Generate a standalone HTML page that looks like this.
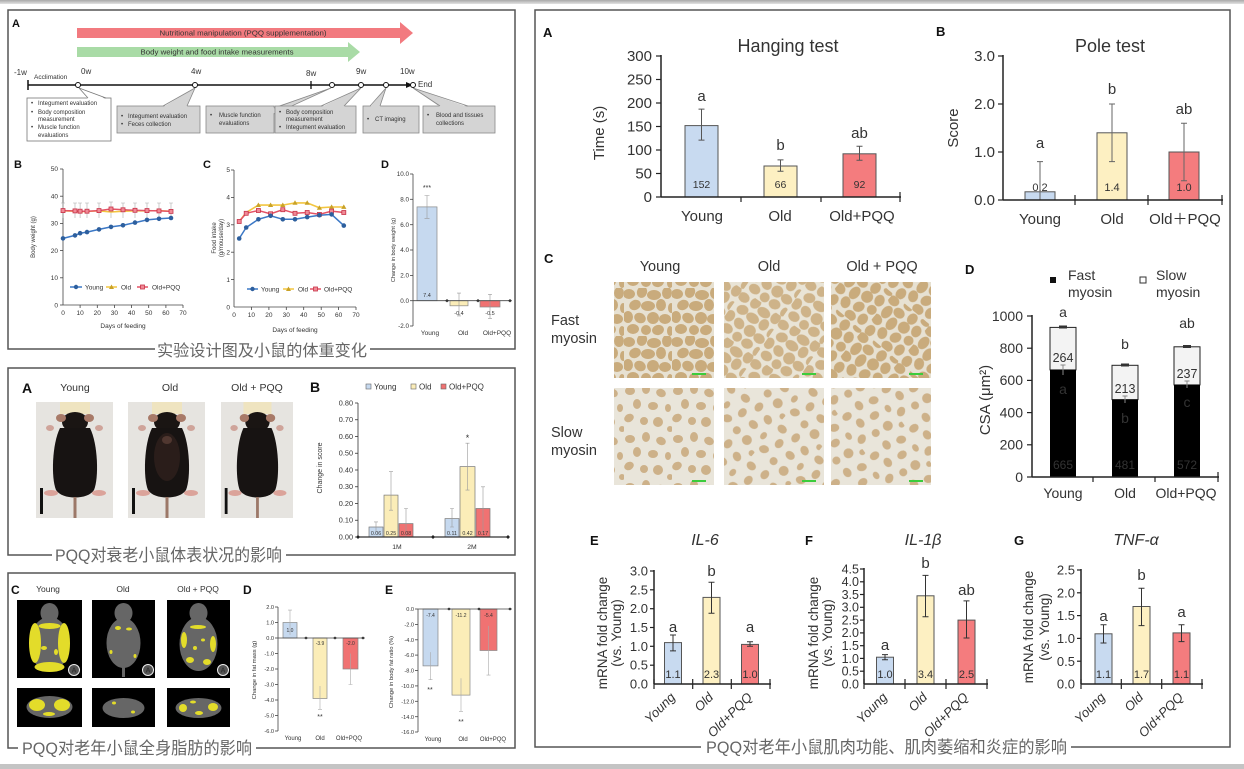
<!DOCTYPE html>
<html><head><meta charset="utf-8">
<style>
html,body{margin:0;padding:0;background:#fff;}
svg{display:block;}
text{font-family:"Liberation Sans",Arial,sans-serif;fill:#333;}
.cj{font-family:"Liberation Sans","Noto Sans CJK SC",sans-serif;fill:#666;}
.b{font-weight:bold;fill:#111;}
</style></head><body>
<svg width="1244" height="769" viewBox="0 0 1244 769" xmlns="http://www.w3.org/2000/svg">
<defs>
<linearGradient id="tg" x1="0" y1="0" x2="0" y2="1"><stop offset="0" stop-color="#a9a9a9"/><stop offset="1" stop-color="#e2e2e2"/></linearGradient>
<pattern id="pf" width="48" height="48" patternUnits="userSpaceOnUse">
<rect width="48" height="48" fill="#e7e1d2"/>
<g fill="#c9ab7c">
<ellipse cx="5" cy="6" rx="6" ry="5"/><ellipse cx="18" cy="4" rx="5" ry="6" transform="rotate(20 18 4)"/><ellipse cx="30" cy="7" rx="7" ry="5"/><ellipse cx="43" cy="5" rx="5" ry="6"/>
<ellipse cx="11" cy="17" rx="6" ry="5" transform="rotate(-25 11 17)"/><ellipse cx="24" cy="18" rx="7" ry="5"/><ellipse cx="37" cy="17" rx="5" ry="6"/><ellipse cx="47" cy="20" rx="3" ry="5"/>
<ellipse cx="4" cy="29" rx="5" ry="6"/><ellipse cx="16" cy="30" rx="6" ry="5" transform="rotate(30 16 30)"/><ellipse cx="29" cy="30" rx="6" ry="6"/><ellipse cx="41" cy="31" rx="6" ry="5"/>
<ellipse cx="9" cy="41" rx="6" ry="5"/><ellipse cx="22" cy="42" rx="5" ry="5"/><ellipse cx="34" cy="42" rx="6" ry="5" transform="rotate(-15 34 42)"/><ellipse cx="46" cy="43" rx="3" ry="5"/>
</g></pattern>
<pattern id="pf2" href="#pf" patternTransform="rotate(35) translate(7 3)"/>
<pattern id="pf3" href="#pf" patternTransform="rotate(-50) translate(13 9)"/>
<pattern id="ps" width="48" height="48" patternUnits="userSpaceOnUse">
<rect width="48" height="48" fill="#e9e5da"/>
<g fill="#cdb189">
<ellipse cx="6" cy="7" rx="5" ry="4"/><ellipse cx="22" cy="5" rx="4" ry="5"/><ellipse cx="37" cy="9" rx="5" ry="4" transform="rotate(25 37 9)"/>
<ellipse cx="13" cy="20" rx="4" ry="5"/><ellipse cx="29" cy="22" rx="5" ry="4"/><ellipse cx="44" cy="24" rx="3" ry="4"/>
<ellipse cx="5" cy="34" rx="5" ry="4" transform="rotate(-30 5 34)"/><ellipse cx="20" cy="37" rx="4" ry="4"/><ellipse cx="34" cy="38" rx="5" ry="5"/><ellipse cx="46" cy="45" rx="3" ry="3"/>
</g></pattern>
<pattern id="ps2" href="#ps" patternTransform="rotate(40) translate(5 11)"/>
<pattern id="ps3" href="#ps" patternTransform="rotate(-35) translate(17 4)"/>
<g id="mouse">
<rect width="77" height="116" fill="#e6e4e0"/>
<rect x="24" y="0" width="30" height="12" fill="#efe4c0"/>
<ellipse cx="39" cy="20" rx="13" ry="10" fill="#1a1513"/>
<ellipse cx="25" cy="16" rx="5" ry="4" fill="#a87a68"/>
<ellipse cx="53" cy="16" rx="5" ry="4" fill="#a87a68"/>
<ellipse cx="14" cy="26" rx="4" ry="3" fill="#cfa49a"/>
<ellipse cx="63" cy="26" rx="4" ry="3" fill="#cfa49a"/>
<path d="M24 26 C16 42 15 76 20 88 C26 98 52 98 58 88 C63 76 62 42 54 26 Z" fill="#171312"/>
<ellipse cx="15" cy="91" rx="7" ry="3" fill="#dba39a"/>
<ellipse cx="63" cy="91" rx="7" ry="3" fill="#dba39a"/>
<rect x="37.5" y="95" width="3" height="21" fill="#9c7868"/>
<rect x="4" y="86" width="3" height="26" fill="#111"/>
</g>
</defs>

<rect x="0" y="0" width="1244" height="4" fill="url(#tg)"/>
<rect x="0" y="764" width="1244" height="5" fill="#c4c4c4"/>

<!-- ================= PANEL 1 ================= -->
<rect x="8" y="10" width="507" height="339" fill="none" stroke="#555" stroke-width="1.5"/>
<text x="12" y="27" class="b" font-size="11">A</text>
<polygon points="77,28 400,28 400,22 413,33 400,44 400,38 77,38" fill="#f27a7f"/>
<text x="243" y="35.5" font-size="7.5" text-anchor="middle" textLength="167" lengthAdjust="spacingAndGlyphs" fill="#333">Nutritional manipulation (PQQ supplementation)</text>
<polygon points="77,47 348,47 348,42 360,52 348,62 348,57 77,57" fill="#a9dba6"/>
<text x="217" y="54.5" font-size="7.5" text-anchor="middle" textLength="153" lengthAdjust="spacingAndGlyphs" fill="#333">Body weight and food intake measurements</text>
<line x1="28" y1="85" x2="408" y2="85" stroke="#111" stroke-width="1.5"/>
<polygon points="406,82 413,85 406,88" fill="#111"/>
<line x1="28" y1="80" x2="28" y2="90" stroke="#111" stroke-width="1.5"/>
<line x1="311" y1="81" x2="311" y2="89" stroke="#111" stroke-width="1.3"/>
<g font-size="8" fill="#222">
<text x="14" y="75">-1w</text><text x="34" y="79" font-size="6.5">Acclimation</text>
<text x="81" y="74">0w</text><text x="191" y="74">4w</text><text x="306" y="76">8w</text>
<text x="356" y="74">9w</text><text x="400" y="74">10w</text><text x="418" y="87">End</text>
</g>
<rect x="27" y="98" width="84" height="43" fill="#fff" stroke="#777" stroke-width="0.8"/>
<polygon points="79,88 88,99 106,99" fill="#fff"/><polyline points="88,98 79,88 106,98" fill="none" stroke="#777" stroke-width="0.8"/>
<rect x="117" y="106" width="83" height="27" fill="#d4d4d4" stroke="#888" stroke-width="0.8"/>
<polygon points="195,88 163,107 187,107" fill="#d4d4d4"/><polyline points="163,106 195,88 187,106" fill="none" stroke="#888" stroke-width="0.8"/>
<rect x="206" y="106" width="68" height="27" fill="#d4d4d4" stroke="#888" stroke-width="0.8"/>
<polygon points="331,88 272,108 272,114" fill="#d4d4d4"/><polyline points="274,108 331,88 274,114" fill="none" stroke="#888" stroke-width="0.8"/>
<rect x="275" y="106" width="81" height="27" fill="#d4d4d4" stroke="#888" stroke-width="0.8"/>
<polygon points="361,88 321,107 344,107" fill="#d4d4d4"/><polyline points="321,106 361,88 344,106" fill="none" stroke="#888" stroke-width="0.8"/>
<rect x="363" y="106" width="56" height="27" fill="#d4d4d4" stroke="#888" stroke-width="0.8"/>
<polygon points="386,88 370,107 380,107" fill="#d4d4d4"/><polyline points="370,106 386,88 380,106" fill="none" stroke="#888" stroke-width="0.8"/>
<rect x="423" y="106" width="72" height="27" fill="#d4d4d4" stroke="#888" stroke-width="0.8"/>
<polygon points="413,88 440,107 468,107" fill="#d4d4d4"/><polyline points="440,106 413,88 468,106" fill="none" stroke="#888" stroke-width="0.8"/>
<g fill="#fff" stroke="#111" stroke-width="1"><circle cx="78" cy="85" r="2.5"/><circle cx="195" cy="85" r="2.5"/><circle cx="332" cy="85" r="2.5"/><circle cx="361" cy="85" r="2.5"/><circle cx="386" cy="85" r="2.5"/><circle cx="413" cy="85" r="2.5"/></g>
<g font-size="6" fill="#333">
<text x="31" y="105">•</text><text x="38" y="105">Integument evaluation</text>
<text x="31" y="114">•</text><text x="38" y="114">Body composition</text><text x="38" y="121">measurement</text>
<text x="31" y="129">•</text><text x="38" y="129">Muscle function</text><text x="38" y="137">evaluations</text>
<text x="121" y="118">•</text><text x="128" y="118">Integument evaluation</text>
<text x="121" y="126">•</text><text x="128" y="126">Feces collection</text>
<text x="210" y="117">•</text><text x="219" y="117">Muscle function</text><text x="219" y="125">evaluations</text>
<text x="279" y="114">•</text><text x="286" y="114">Body composition</text><text x="286" y="121">measurement</text>
<text x="279" y="129">•</text><text x="286" y="129">Integument evaluation</text>
<text x="367" y="121">•</text><text x="375" y="121">CT imaging</text>
<text x="427" y="117">•</text><text x="436" y="117">Blood and tissues</text><text x="436" y="125">collections</text>
</g>

<!-- Chart B (body weight) -->
<text x="14" y="168" class="b" font-size="11">B</text>
<g stroke="#444" stroke-width="0.8">
<line x1="63" y1="169" x2="63" y2="305"/><line x1="63" y1="305" x2="183" y2="305"/>
<line x1="60" y1="169" x2="63" y2="169"/><line x1="60" y1="196.2" x2="63" y2="196.2"/><line x1="60" y1="223.4" x2="63" y2="223.4"/><line x1="60" y1="250.6" x2="63" y2="250.6"/><line x1="60" y1="277.8" x2="63" y2="277.8"/><line x1="60" y1="305" x2="63" y2="305"/>
<line x1="80.1" y1="305" x2="80.1" y2="308"/><line x1="97.3" y1="305" x2="97.3" y2="308"/><line x1="114.4" y1="305" x2="114.4" y2="308"/><line x1="131.6" y1="305" x2="131.6" y2="308"/><line x1="148.7" y1="305" x2="148.7" y2="308"/><line x1="165.9" y1="305" x2="165.9" y2="308"/><line x1="183" y1="305" x2="183" y2="308"/>
</g>
<g font-size="6.5" text-anchor="end"><text x="58" y="171">50</text><text x="58" y="198.5">40</text><text x="58" y="225.5">30</text><text x="58" y="253">20</text><text x="58" y="280">10</text><text x="58" y="307.5">0</text></g>
<g font-size="6.5" text-anchor="middle"><text x="63" y="315">0</text><text x="80.1" y="315">10</text><text x="97.3" y="315">20</text><text x="114.4" y="315">30</text><text x="131.6" y="315">40</text><text x="148.7" y="315">50</text><text x="165.9" y="315">60</text><text x="183" y="315">70</text></g>
<text x="123" y="328" font-size="6.5" text-anchor="middle">Days of feeding</text>
<text transform="translate(35,237) rotate(-90)" font-size="6" text-anchor="middle">Body weight (g)</text>
<path d="M63 203V218M75 203V218M80.1 203V218M87 203V218M99 203V218M111 202V218M123 203V218M135 203V218M147 203V218M159 203V218M171 203V218" stroke="#aaa" stroke-width="0.6"/>
<path d="M61 203h4M73 203h4M78 203h4M85 203h4M97 203h4M109 202h4M121 203h4M133 203h4M145 203h4M157 203h4M169 203h4" stroke="#aaa" stroke-width="0.6"/>
<polyline points="63,238.4 75,235.4 80.1,233.2 87,232.1 99,229.4 111,226.9 123,225.3 135,222.6 147,219.9 159,218.8 171,218" fill="none" stroke="#3b78c6" stroke-width="1.5"/>
<polyline points="63,210.9 75,211.2 80.1,211.7 87,211.4 99,210.9 111,212 123,211.2 135,210.9 147,210.9 159,210.6 171,211.2" fill="none" stroke="#f3c640" stroke-width="1.5"/>
<polyline points="63,210.6 75,210.9 80.1,211.2 87,211.2 99,210.6 111,209 123,209.8 135,210.3 147,210.6 159,210.9 171,211.4" fill="none" stroke="#e45366" stroke-width="1.5"/>
<g fill="#2d5f9e"><circle cx="63" cy="238.4" r="2.3"/><circle cx="75" cy="235.4" r="2.3"/><circle cx="80.1" cy="233.2" r="2.3"/><circle cx="87" cy="232.1" r="2.3"/><circle cx="99" cy="229.4" r="2.3"/><circle cx="111" cy="226.9" r="2.3"/><circle cx="123" cy="225.3" r="2.3"/><circle cx="135" cy="222.6" r="2.3"/><circle cx="147" cy="219.9" r="2.3"/><circle cx="159" cy="218.8" r="2.3"/><circle cx="171" cy="218" r="2.3"/></g>
<g fill="#f08a96" stroke="#c73248" stroke-width="0.8"><rect x="61" y="208.6" width="4" height="4"/><rect x="73" y="208.9" width="4" height="4"/><rect x="78.1" y="209.2" width="4" height="4"/><rect x="85" y="209.2" width="4" height="4"/><rect x="97" y="208.6" width="4" height="4"/><rect x="109" y="207" width="4" height="4"/><rect x="121" y="207.8" width="4" height="4"/><rect x="133" y="208.3" width="4" height="4"/><rect x="145" y="208.6" width="4" height="4"/><rect x="157" y="208.9" width="4" height="4"/><rect x="169" y="209.4" width="4" height="4"/></g>
<line x1="70" y1="287" x2="82" y2="287" stroke="#3b78c6" stroke-width="1.5"/><circle cx="76" cy="287" r="2.2" fill="#2d5f9e"/>
<text x="85" y="289.5" font-size="6.5">Young</text>
<line x1="106" y1="287" x2="117" y2="287" stroke="#f3c640" stroke-width="1.5"/><polygon points="111.5,284.5 114,289 109,289" fill="#c9a227"/>
<text x="121" y="289.5" font-size="6.5">Old</text>
<line x1="137" y1="287" x2="148" y2="287" stroke="#e45366" stroke-width="1.5"/><rect x="140.5" y="285" width="4" height="4" fill="#f08a96" stroke="#c73248" stroke-width="0.8"/>
<text x="152" y="289.5" font-size="6.5">Old+PQQ</text>

<!-- Chart C (food intake) -->
<text x="203" y="168" class="b" font-size="11">C</text>
<g stroke="#444" stroke-width="0.8">
<line x1="234" y1="170" x2="234" y2="307"/><line x1="234" y1="307" x2="356" y2="307"/>
<line x1="231" y1="170" x2="234" y2="170"/><line x1="231" y1="197.4" x2="234" y2="197.4"/><line x1="231" y1="224.8" x2="234" y2="224.8"/><line x1="231" y1="252.2" x2="234" y2="252.2"/><line x1="231" y1="279.6" x2="234" y2="279.6"/>
<line x1="251.4" y1="307" x2="251.4" y2="310"/><line x1="268.9" y1="307" x2="268.9" y2="310"/><line x1="286.3" y1="307" x2="286.3" y2="310"/><line x1="303.7" y1="307" x2="303.7" y2="310"/><line x1="321.2" y1="307" x2="321.2" y2="310"/><line x1="338.6" y1="307" x2="338.6" y2="310"/><line x1="356" y1="307" x2="356" y2="310"/>
</g>
<g font-size="6.5" text-anchor="end"><text x="230" y="172">5</text><text x="230" y="199.5">4</text><text x="230" y="227">3</text><text x="230" y="254.5">2</text><text x="230" y="282">1</text><text x="230" y="309.5">0</text></g>
<g font-size="6.5" text-anchor="middle"><text x="234" y="317">0</text><text x="251.4" y="317">10</text><text x="268.9" y="317">20</text><text x="286.3" y="317">30</text><text x="303.7" y="317">40</text><text x="321.2" y="317">50</text><text x="338.6" y="317">60</text><text x="356" y="317">70</text></g>
<text x="295" y="332" font-size="6.5" text-anchor="middle">Days of feeding</text>
<text transform="translate(216,238) rotate(-90)" font-size="6" text-anchor="middle">Food intake</text>
<text transform="translate(223,238) rotate(-90)" font-size="6" text-anchor="middle">(g/mouse/day)</text>
<polyline points="239.2,221.5 246.2,212.5 258.4,205.1 270.6,205.1 282.8,205.1 295,202.9 307.2,202.9 319.4,207.8 331.6,207 343.8,207" fill="none" stroke="#f3c640" stroke-width="1.6"/>
<polyline points="239.2,221.5 246.2,213.3 258.4,210.5 270.6,213.8 282.8,209.7 295,213.3 307.2,212.5 319.4,214.4 331.6,211.1 343.8,212.5" fill="none" stroke="#e45366" stroke-width="1.5"/>
<polyline points="239.2,238.5 246.2,227.5 258.4,219.3 270.6,215.8 282.8,219.3 295,219.3 307.2,217.1 319.4,215.2 331.6,214.4 343.8,225.6" fill="none" stroke="#3b78c6" stroke-width="1.5"/>
<g fill="#c9a227"><polygon points="258.4,202.5 261,207 255.8,207"/><polygon points="270.6,202.5 273.2,207 268,207"/><polygon points="282.8,202.5 285.4,207 280.2,207"/><polygon points="295,200.3 297.6,204.8 292.4,204.8"/><polygon points="307.2,200.3 309.8,204.8 304.6,204.8"/><polygon points="319.4,205.2 322,209.7 316.8,209.7"/><polygon points="331.6,204.4 334.2,208.9 329,208.9"/><polygon points="343.8,204.4 346.4,208.9 341.2,208.9"/></g>
<g fill="#f08a96" stroke="#c73248" stroke-width="0.8"><rect x="237.2" y="219.5" width="4" height="4"/><rect x="244.2" y="211.3" width="4" height="4"/><rect x="256.4" y="208.5" width="4" height="4"/><rect x="268.6" y="211.8" width="4" height="4"/><rect x="280.8" y="207.7" width="4" height="4"/><rect x="293" y="211.3" width="4" height="4"/><rect x="305.2" y="210.5" width="4" height="4"/><rect x="317.4" y="212.4" width="4" height="4"/><rect x="329.6" y="209.1" width="4" height="4"/><rect x="341.8" y="210.5" width="4" height="4"/></g>
<g fill="#2d5f9e"><circle cx="239.2" cy="238.5" r="2.3"/><circle cx="246.2" cy="227.5" r="2.3"/><circle cx="258.4" cy="219.3" r="2.3"/><circle cx="270.6" cy="215.8" r="2.3"/><circle cx="282.8" cy="219.3" r="2.3"/><circle cx="295" cy="219.3" r="2.3"/><circle cx="307.2" cy="217.1" r="2.3"/><circle cx="319.4" cy="215.2" r="2.3"/><circle cx="331.6" cy="214.4" r="2.3"/><circle cx="343.8" cy="225.6" r="2.3"/></g>
<line x1="247" y1="289" x2="258" y2="289" stroke="#3b78c6" stroke-width="1.5"/><circle cx="252.5" cy="289" r="2.2" fill="#2d5f9e"/>
<text x="261" y="291.5" font-size="6.5">Young</text>
<line x1="283" y1="289" x2="294" y2="289" stroke="#f3c640" stroke-width="1.5"/><polygon points="288.5,286.5 291,291 286,291" fill="#c9a227"/>
<text x="298" y="291.5" font-size="6.5">Old</text>
<line x1="310" y1="289" x2="321" y2="289" stroke="#e45366" stroke-width="1.5"/><rect x="313.5" y="287" width="4" height="4" fill="#f08a96" stroke="#c73248" stroke-width="0.8"/>
<text x="324" y="291.5" font-size="6.5">Old+PQQ</text>

<!-- Chart D (change in body weight) -->
<text x="381" y="168" class="b" font-size="11">D</text>
<rect x="417" y="206.9" width="20" height="93.8" fill="#c6d9ef" stroke="#888" stroke-width="0.7"/>
<rect x="450" y="300.7" width="18" height="5.1" fill="#fbedb8" stroke="#888" stroke-width="0.7"/>
<rect x="480" y="300.7" width="20" height="6.3" fill="#f07272" stroke="#888" stroke-width="0.7"/>
<path d="M427 195.5V218.3M424.5 195.5h5M424.5 218.3h5M459 293.1V315.9M457 293.1h4M457 315.9h4M490 294.4V318.4M488 294.4h4M488 318.4h4" stroke="#999" stroke-width="0.6"/>
<g stroke="#444" stroke-width="0.8">
<line x1="413" y1="174" x2="413" y2="326"/><line x1="413" y1="300.7" x2="511" y2="300.7"/>
<line x1="410" y1="174" x2="413" y2="174"/><line x1="410" y1="199.3" x2="413" y2="199.3"/><line x1="410" y1="224.7" x2="413" y2="224.7"/><line x1="410" y1="250" x2="413" y2="250"/><line x1="410" y1="275.4" x2="413" y2="275.4"/><line x1="410" y1="300.7" x2="413" y2="300.7"/><line x1="410" y1="326" x2="413" y2="326"/>
</g>
<g fill="#333"><polygon points="447,299 449,300.7 447,302.4 445,300.7"/><polygon points="478,299 480,300.7 478,302.4 476,300.7"/><polygon points="510,299 512,300.7 510,302.4 508,300.7"/></g>
<g font-size="6.3" text-anchor="end"><text x="409" y="176">10.0</text><text x="409" y="201.5">8.0</text><text x="409" y="227">6.0</text><text x="409" y="252">4.0</text><text x="409" y="277.5">2.0</text><text x="409" y="303">0.0</text><text x="409" y="328">-2.0</text></g>
<text x="427" y="190" font-size="7" text-anchor="middle">***</text>
<g font-size="5.5" text-anchor="middle" fill="#555"><text x="427" y="297">7.4</text><text x="459" y="315">-0.4</text><text x="490" y="315">-0.5</text></g>
<g font-size="6.5" text-anchor="middle"><text x="430" y="335">Young</text><text x="463" y="335">Old</text><text x="497" y="335">Old+PQQ</text></g>
<text transform="translate(395,250) rotate(-90)" font-size="5.5" text-anchor="middle">Change in body weight (g)</text>

<rect x="155" y="340" width="215" height="20" fill="#fff"/>
<text x="262" y="356" class="cj" font-size="16" text-anchor="middle" textLength="210" lengthAdjust="spacingAndGlyphs">实验设计图及小鼠的体重变化</text>

<!-- ================= PANEL 2 ================= -->
<rect x="8" y="368" width="507" height="187" fill="none" stroke="#555" stroke-width="1.5"/>
<text x="22" y="393" class="b" font-size="14">A</text>
<g font-size="10.5" text-anchor="middle" fill="#222"><text x="75" y="391">Young</text><text x="170" y="391">Old</text><text x="257" y="391">Old + PQQ</text></g>
<use href="#mouse" transform="translate(36,402)"/>
<use href="#mouse" transform="translate(128,402)"/>
<ellipse cx="167" cy="457" rx="13" ry="24" fill="#3a2620" opacity="0.55"/>
<ellipse cx="167" cy="440" rx="5" ry="4" fill="#6a4a40" opacity="0.6"/>
<use href="#mouse" transform="translate(221,402) scale(0.935,1)"/>
<text x="310" y="392" class="b" font-size="14">B</text>
<rect x="366" y="384" width="5" height="5" fill="#c6d9ef" stroke="#666" stroke-width="0.6"/><text x="374" y="389.5" font-size="8">Young</text>
<rect x="411" y="384" width="5" height="5" fill="#fbedb8" stroke="#666" stroke-width="0.6"/><text x="419" y="389.5" font-size="8">Old</text>
<rect x="441" y="384" width="5" height="5" fill="#f07272" stroke="#666" stroke-width="0.6"/><text x="449" y="389.5" font-size="8">Old+PQQ</text>
<g stroke="#777" stroke-width="0.7">
<rect x="369" y="527" width="14" height="10" fill="#c6d9ef"/><rect x="384" y="495.1" width="14" height="41.9" fill="#fbedb8"/><rect x="399" y="523.6" width="14" height="13.4" fill="#f07272"/>
<rect x="445" y="518.6" width="14" height="18.4" fill="#c6d9ef"/><rect x="460" y="466.6" width="15" height="70.4" fill="#fbedb8"/><rect x="476" y="508.5" width="14" height="28.5" fill="#f07272"/>
</g>
<path d="M376 521.9V532M374 521.9h4M391 471.7V510.2M389 471.7h4M389 510.2h4M406 508.5V537M404 508.5h4M452 508.5V527M450 508.5h4M450 527h4M467.5 443.2V490.1M465.5 443.2h4M465.5 490.1h4M483 486.8V532M481 486.8h4M481 532h4" stroke="#999" stroke-width="0.6"/>
<g stroke="#333" stroke-width="0.8">
<line x1="358" y1="403" x2="358" y2="537"/><line x1="358" y1="537" x2="509" y2="537" stroke-width="1.2"/>
<line x1="355" y1="403" x2="358" y2="403"/><line x1="355" y1="419.75" x2="358" y2="419.75"/><line x1="355" y1="436.5" x2="358" y2="436.5"/><line x1="355" y1="453.25" x2="358" y2="453.25"/><line x1="355" y1="470" x2="358" y2="470"/><line x1="355" y1="486.75" x2="358" y2="486.75"/><line x1="355" y1="503.5" x2="358" y2="503.5"/><line x1="355" y1="520.25" x2="358" y2="520.25"/><line x1="355" y1="537" x2="358" y2="537"/>
</g>
<g fill="#222"><polygon points="358,535 360,537 358,539 356,537"/><polygon points="433,535 435,537 433,539 431,537"/><polygon points="508,535 510,537 508,539 506,537"/></g>
<g font-size="7.3" text-anchor="end"><text x="353" y="405.5">0.80</text><text x="353" y="422">0.70</text><text x="353" y="439">0.60</text><text x="353" y="455.5">0.50</text><text x="353" y="472.5">0.40</text><text x="353" y="489">0.30</text><text x="353" y="506">0.20</text><text x="353" y="522.5">0.10</text><text x="353" y="539.5">0.00</text></g>
<g font-size="5.3" text-anchor="middle" fill="#444"><text x="376" y="535">0.06</text><text x="391" y="535">0.25</text><text x="406" y="535">0.08</text><text x="452" y="535">0.11</text><text x="467.5" y="535">0.42</text><text x="483" y="535">0.17</text></g>
<text x="467.5" y="441" font-size="9" text-anchor="middle">*</text>
<text transform="translate(322,468) rotate(-90)" font-size="7" text-anchor="middle">Change in score</text>
<g font-size="6.8" text-anchor="middle"><text x="397" y="549">1M</text><text x="472" y="549">2M</text></g>
<rect x="52" y="545" width="234" height="20" fill="#fff"/>
<text x="55" y="561" class="cj" font-size="17" textLength="227" lengthAdjust="spacingAndGlyphs">PQQ对衰老小鼠体表状况的影响</text>

<!-- ================= PANEL 3 ================= -->
<rect x="8" y="573" width="507" height="175" fill="none" stroke="#555" stroke-width="1.5"/>
<text x="11" y="594" class="b" font-size="12">C</text>
<g font-size="8.5" text-anchor="middle" fill="#222"><text x="48" y="592">Young</text><text x="123" y="592">Old</text><text x="198" y="592">Old + PQQ</text></g>
<rect x="17" y="600" width="65" height="78" fill="#000"/>
<rect x="92" y="600" width="63" height="78" fill="#000"/>
<rect x="167" y="600" width="63" height="78" fill="#000"/>
<g fill="#666">
<ellipse cx="49.5" cy="613" rx="9" ry="10"/><ellipse cx="49.5" cy="644" rx="20" ry="27"/>
<ellipse cx="123.5" cy="613" rx="9" ry="10"/><ellipse cx="123.5" cy="643" rx="17" ry="25"/><rect x="122" y="665" width="3" height="12"/>
<ellipse cx="198.5" cy="613" rx="9" ry="10"/><ellipse cx="198.5" cy="644" rx="19" ry="27"/>
</g>
<g fill="#e3dc2a">
<ellipse cx="35" cy="643" rx="6" ry="20"/><ellipse cx="64" cy="643" rx="6" ry="20"/><ellipse cx="49.5" cy="667" rx="15" ry="5"/><ellipse cx="49.5" cy="626" rx="11" ry="3"/><ellipse cx="44" cy="648" rx="3" ry="2"/><ellipse cx="56" cy="652" rx="2" ry="3"/>
<ellipse cx="118" cy="628" rx="3" ry="2"/><ellipse cx="129" cy="629" rx="3" ry="1.5"/><ellipse cx="111" cy="652" rx="1.5" ry="2"/><ellipse cx="135" cy="656" rx="1.5" ry="2"/>
<ellipse cx="184" cy="640" rx="3" ry="8"/><ellipse cx="213" cy="644" rx="3" ry="8"/><ellipse cx="198" cy="627" rx="8" ry="2"/><ellipse cx="190" cy="660" rx="4" ry="3"/><ellipse cx="207" cy="662" rx="4" ry="3"/><ellipse cx="195" cy="648" rx="2" ry="2"/><ellipse cx="203" cy="640" rx="2" ry="1.5"/>
</g>
<g><circle cx="74" cy="670" r="5.5" fill="#555" stroke="#eee"/><circle cx="148" cy="670" r="5.5" fill="#555" stroke="#eee"/><circle cx="223" cy="670" r="5.5" fill="#555" stroke="#eee"/></g>
<g font-size="7" font-weight="bold" text-anchor="middle"><text x="74" y="672.5" fill="#fff">A</text><text x="148" y="672.5" fill="#fff">A</text><text x="223" y="672.5" fill="#fff">A</text></g>
<rect x="17" y="688" width="65" height="39" fill="#000"/>
<rect x="92" y="688" width="63" height="39" fill="#000"/>
<rect x="167" y="688" width="63" height="39" fill="#000"/>
<ellipse cx="49.5" cy="707" rx="23" ry="11" fill="#666"/>
<ellipse cx="123.5" cy="708" rx="21" ry="10" fill="#666"/>
<ellipse cx="198.5" cy="708" rx="23" ry="10" fill="#666"/>
<g fill="#e3dc2a">
<ellipse cx="37" cy="705" rx="8" ry="6"/><ellipse cx="62" cy="705" rx="8" ry="6"/><ellipse cx="49" cy="714" rx="6" ry="2"/>
<ellipse cx="114" cy="703" rx="2" ry="1.5"/><ellipse cx="133" cy="712" rx="2" ry="1.5"/>
<ellipse cx="183" cy="708" rx="4" ry="4"/><ellipse cx="213" cy="707" rx="5" ry="4"/><ellipse cx="199" cy="713" rx="4" ry="2"/><ellipse cx="193" cy="702" rx="3" ry="1.5"/>
</g>
<text x="243" y="594" class="b" font-size="12">D</text>
<rect x="283" y="622.5" width="14" height="15.5" fill="#c6d9ef" stroke="#888" stroke-width="0.7"/>
<rect x="313" y="638" width="14" height="60.5" fill="#fbedb8" stroke="#888" stroke-width="0.7"/>
<rect x="343" y="638" width="15" height="31" fill="#f07272" stroke="#888" stroke-width="0.7"/>
<path d="M290 610.1V634.9M288 610.1h4M320 686V709.3M318 709.3h4M350.5 653.5V684.5M348.5 684.5h4" stroke="#aaa" stroke-width="0.6"/>
<g stroke="#444" stroke-width="0.8">
<line x1="278" y1="607" x2="278" y2="731"/><line x1="278" y1="638" x2="364" y2="638"/>
<line x1="275" y1="607" x2="278" y2="607"/><line x1="275" y1="622.5" x2="278" y2="622.5"/><line x1="275" y1="638" x2="278" y2="638"/><line x1="275" y1="653.5" x2="278" y2="653.5"/><line x1="275" y1="669" x2="278" y2="669"/><line x1="275" y1="684.5" x2="278" y2="684.5"/><line x1="275" y1="700" x2="278" y2="700"/><line x1="275" y1="715.5" x2="278" y2="715.5"/><line x1="275" y1="731" x2="278" y2="731"/>
</g>
<g fill="#333"><polygon points="306,636.5 308,638 306,639.5 304,638"/><polygon points="335,636.5 337,638 335,639.5 333,638"/><polygon points="363,636.5 365,638 363,639.5 361,638"/></g>
<g font-size="5.6" text-anchor="end"><text x="274" y="609">2.0</text><text x="274" y="624.5">1.0</text><text x="274" y="640">0.0</text><text x="274" y="655.5">-1.0</text><text x="274" y="671">-2.0</text><text x="274" y="686.5">-3.0</text><text x="274" y="702">-4.0</text><text x="274" y="717.5">-5.0</text><text x="274" y="733">-6.0</text></g>
<g font-size="5" text-anchor="middle" fill="#555"><text x="290" y="632">1.0</text><text x="320" y="645">-3.9</text><text x="350.5" y="645">-2.0</text></g>
<text x="320" y="719" font-size="7" text-anchor="middle">**</text>
<g font-size="6" text-anchor="middle"><text x="293" y="740">Young</text><text x="320" y="740">Old</text><text x="349" y="740">Old+PQQ</text></g>
<text transform="translate(256,670) rotate(-90)" font-size="5.8" text-anchor="middle">Change in fat mass (g)</text>
<text x="385" y="594" class="b" font-size="12">E</text>
<rect x="423" y="609" width="15" height="56.9" fill="#c6d9ef" stroke="#888" stroke-width="0.7"/>
<rect x="452" y="609" width="18" height="86.1" fill="#fbedb8" stroke="#888" stroke-width="0.7"/>
<rect x="480" y="609" width="17" height="41.5" fill="#f07272" stroke="#888" stroke-width="0.7"/>
<path d="M430.5 652.1V679.7M428.5 679.7h4M461 678.2V711.3M459 711.3h4M488.5 625.9V675.1M486.5 675.1h4" stroke="#aaa" stroke-width="0.6"/>
<g stroke="#444" stroke-width="0.8">
<line x1="418" y1="609" x2="418" y2="732"/><line x1="418" y1="609" x2="511" y2="609"/>
<line x1="415" y1="609" x2="418" y2="609"/><line x1="415" y1="624.4" x2="418" y2="624.4"/><line x1="415" y1="639.8" x2="418" y2="639.8"/><line x1="415" y1="655.1" x2="418" y2="655.1"/><line x1="415" y1="670.5" x2="418" y2="670.5"/><line x1="415" y1="685.9" x2="418" y2="685.9"/><line x1="415" y1="701.3" x2="418" y2="701.3"/><line x1="415" y1="716.7" x2="418" y2="716.7"/><line x1="415" y1="732" x2="418" y2="732"/>
</g>
<g fill="#333"><polygon points="449,607.5 451,609 449,610.5 447,609"/><polygon points="479,607.5 481,609 479,610.5 477,609"/><polygon points="510,607.5 512,609 510,610.5 508,609"/></g>
<g font-size="5.6" text-anchor="end"><text x="414" y="611">0.0</text><text x="414" y="626.5">-2.0</text><text x="414" y="642">-4.0</text><text x="414" y="657">-6.0</text><text x="414" y="672.5">-8.0</text><text x="414" y="688">-10.0</text><text x="414" y="703.5">-12.0</text><text x="414" y="719">-14.0</text><text x="414" y="734">-16.0</text></g>
<g font-size="5" text-anchor="middle" fill="#555"><text x="430.5" y="617">-7.4</text><text x="461" y="617">-11.2</text><text x="488.5" y="617">-5.4</text></g>
<text x="430" y="692" font-size="7" text-anchor="middle">**</text>
<text x="461" y="724" font-size="7" text-anchor="middle">**</text>
<g font-size="6" text-anchor="middle"><text x="433" y="741">Young</text><text x="463" y="741">Old</text><text x="493" y="741">Old+PQQ</text></g>
<text transform="translate(393,672) rotate(-90)" font-size="5.8" text-anchor="middle">Change in body fat ratio (%)</text>
<rect x="18" y="738" width="238" height="20" fill="#fff"/>
<text x="22" y="754" class="cj" font-size="17" textLength="230" lengthAdjust="spacingAndGlyphs">PQQ对老年小鼠全身脂肪的影响</text>

<!-- ================= PANEL 4 ================= -->
<rect x="535" y="10" width="695" height="737" fill="none" stroke="#555" stroke-width="1.5"/>
<text x="543" y="37" class="b" font-size="13">A</text>
<text x="788" y="52" font-size="18" text-anchor="middle" fill="#222">Hanging test</text>
<rect x="685" y="125.6" width="33" height="71.4" fill="#c8daf0" stroke="#555" stroke-width="1"/>
<rect x="764" y="166" width="33" height="31" fill="#fdf0c2" stroke="#555" stroke-width="1"/>
<rect x="843" y="153.8" width="33" height="43.2" fill="#f47c7e" stroke="#555" stroke-width="1"/>
<path d="M701.5 109.1V140.1M698.5 109.1h6M698.5 140.1h6M780.5 159.9V171.2M777.5 159.9h6M777.5 171.2h6M859.5 146.2V160.3M856.5 146.2h6M856.5 160.3h6" stroke="#555" stroke-width="1"/>
<g stroke="#222" stroke-width="1.5">
<line x1="661" y1="55" x2="661" y2="197"/><line x1="661" y1="197" x2="901" y2="197"/>
</g>
<g stroke="#222" stroke-width="1.2">
<line x1="656" y1="56" x2="661" y2="56"/><line x1="656" y1="79.5" x2="661" y2="79.5"/><line x1="656" y1="103" x2="661" y2="103"/><line x1="656" y1="126.5" x2="661" y2="126.5"/><line x1="656" y1="150" x2="661" y2="150"/><line x1="656" y1="173.5" x2="661" y2="173.5"/><line x1="656" y1="197" x2="661" y2="197"/>
<line x1="741" y1="197" x2="741" y2="202"/><line x1="821" y1="197" x2="821" y2="202"/><line x1="900" y1="192" x2="900" y2="202"/>
</g>
<g font-size="15" text-anchor="end" fill="#333"><text x="652" y="61">300</text><text x="652" y="84.5">250</text><text x="652" y="108">200</text><text x="652" y="131.5">150</text><text x="652" y="155">100</text><text x="652" y="178.5">50</text><text x="652" y="202">0</text></g>
<g font-size="15" text-anchor="middle" fill="#333"><text x="701.5" y="101">a</text><text x="780.5" y="150">b</text><text x="859.5" y="138">ab</text></g>
<g font-size="10.5" text-anchor="middle" fill="#333"><text x="701.5" y="188">152</text><text x="780.5" y="188">66</text><text x="859.5" y="188">92</text></g>
<text transform="translate(604,133) rotate(-90)" font-size="15" text-anchor="middle" fill="#333">Time (s)</text>
<g font-size="15" text-anchor="middle" fill="#333"><text x="702" y="221">Young</text><text x="780" y="221">Old</text><text x="862" y="221">Old+PQQ</text></g>

<text x="936" y="36" class="b" font-size="13">B</text>
<text x="1110" y="52" font-size="18" text-anchor="middle" fill="#222">Pole test</text>
<rect x="1025" y="191.8" width="30" height="8.2" fill="#c8daf0" stroke="#555" stroke-width="1"/>
<rect x="1097" y="132.8" width="30" height="67.2" fill="#fdf0c2" stroke="#555" stroke-width="1"/>
<rect x="1169" y="152" width="30" height="48" fill="#f47c7e" stroke="#555" stroke-width="1"/>
<path d="M1040 161.6V200M1037 161.6h6M1112 104V161.6M1109 104h6M1109 161.6h6M1184 123.2V180.8M1181 123.2h6M1181 180.8h6" stroke="#666" stroke-width="1"/>
<g stroke="#222" stroke-width="1.5"><line x1="1003" y1="55" x2="1003" y2="200"/><line x1="1003" y1="200" x2="1223" y2="200"/></g>
<g stroke="#222" stroke-width="1.2">
<line x1="998" y1="56" x2="1003" y2="56"/><line x1="998" y1="104" x2="1003" y2="104"/><line x1="998" y1="152" x2="1003" y2="152"/><line x1="998" y1="200" x2="1003" y2="200"/>
<line x1="1075" y1="195" x2="1075" y2="205"/><line x1="1148" y1="195" x2="1148" y2="205"/><line x1="1222" y1="195" x2="1222" y2="205"/>
</g>
<g font-size="15" text-anchor="end" fill="#333"><text x="995" y="61">3.0</text><text x="995" y="109">2.0</text><text x="995" y="157">1.0</text><text x="995" y="205">0.0</text></g>
<g font-size="15" text-anchor="middle" fill="#333"><text x="1040" y="148">a</text><text x="1112" y="94">b</text><text x="1184" y="114">ab</text></g>
<g font-size="11" text-anchor="middle" fill="#333"><text x="1040" y="191">0.2</text><text x="1112" y="191">1.4</text><text x="1184" y="191">1.0</text></g>
<text transform="translate(958,128) rotate(-90)" font-size="15" text-anchor="middle" fill="#333">Score</text>
<g font-size="15" text-anchor="middle" fill="#333"><text x="1040" y="224">Young</text><text x="1112" y="224">Old</text><text x="1185" y="224">Old＋PQQ</text></g>

<text x="544" y="263" class="b" font-size="13">C</text>
<g font-size="14.5" text-anchor="middle" fill="#333"><text x="660" y="271">Young</text><text x="769" y="271">Old</text><text x="882" y="271">Old + PQQ</text></g>
<g font-size="14.5" fill="#333"><text x="551" y="325">Fast</text><text x="551" y="343">myosin</text><text x="551" y="437">Slow</text><text x="551" y="455">myosin</text></g>
<rect x="614" y="282" width="100" height="96" fill="url(#pf)"/>
<rect x="724" y="282" width="100" height="96" fill="url(#pf2)"/>
<rect x="831" y="282" width="100" height="96" fill="url(#pf3)"/>
<rect x="614" y="388" width="100" height="97" fill="url(#ps)"/>
<rect x="724" y="388" width="100" height="97" fill="url(#ps2)"/>
<rect x="831" y="388" width="100" height="97" fill="url(#ps3)"/>
<rect x="724" y="282" width="100" height="96" fill="#fff" opacity="0.1"/>
<g stroke="#3ccc3c" stroke-width="2"><line x1="692" y1="374" x2="706" y2="374"/><line x1="802" y1="374" x2="816" y2="374"/><line x1="909" y1="374" x2="923" y2="374"/><line x1="692" y1="481" x2="706" y2="481"/><line x1="802" y1="481" x2="816" y2="481"/><line x1="909" y1="481" x2="923" y2="481"/></g>

<text x="965" y="274" class="b" font-size="13">D</text>
<rect x="1050" y="277" width="6" height="6" fill="#111"/>
<text x="1068" y="280" font-size="14" fill="#333">Fast</text><text x="1068" y="297" font-size="14" fill="#333">myosin</text>
<rect x="1140" y="277" width="6" height="6" fill="#fff" stroke="#333"/>
<text x="1156" y="280" font-size="14" fill="#333">Slow</text><text x="1156" y="297" font-size="14" fill="#333">myosin</text>
<rect x="1050" y="327.4" width="26" height="42.5" fill="#f3f3f3" stroke="#222" stroke-width="1"/>
<rect x="1050" y="369.9" width="26" height="107.1" fill="#000"/>
<rect x="1112" y="365.3" width="26" height="34.3" fill="#f3f3f3" stroke="#222" stroke-width="1"/>
<rect x="1112" y="399.6" width="26" height="77.4" fill="#000"/>
<rect x="1174" y="346.8" width="26" height="38.1" fill="#f3f3f3" stroke="#222" stroke-width="1"/>
<rect x="1174" y="384.9" width="26" height="92.1" fill="#000"/>
<g fill="#333"><rect x="1059" y="325.5" width="8" height="3"/><rect x="1121" y="363.5" width="8" height="3"/><rect x="1183" y="345" width="8" height="3"/></g>
<path d="M1063 365V375M1060.5 365h5M1125 396V403M1122.5 396h5M1187 381V388M1184.5 381h5" stroke="#888" stroke-width="1"/>
<g stroke="#222" stroke-width="1.5"><line x1="1032" y1="315" x2="1032" y2="477"/><line x1="1032" y1="477" x2="1219" y2="477"/></g>
<g stroke="#222" stroke-width="1.2">
<line x1="1027" y1="316" x2="1032" y2="316"/><line x1="1027" y1="348.2" x2="1032" y2="348.2"/><line x1="1027" y1="380.4" x2="1032" y2="380.4"/><line x1="1027" y1="412.6" x2="1032" y2="412.6"/><line x1="1027" y1="444.8" x2="1032" y2="444.8"/><line x1="1027" y1="477" x2="1032" y2="477"/>
<line x1="1093" y1="477" x2="1093" y2="482"/><line x1="1155" y1="477" x2="1155" y2="482"/><line x1="1218" y1="472" x2="1218" y2="482"/>
</g>
<g font-size="14" text-anchor="end" fill="#333"><text x="1023" y="321">1000</text><text x="1023" y="353">800</text><text x="1023" y="385">600</text><text x="1023" y="417.5">400</text><text x="1023" y="449.5">200</text><text x="1023" y="482">0</text></g>
<g font-size="14" text-anchor="middle" fill="#333"><text x="1063" y="317">a</text><text x="1125" y="349">b</text><text x="1187" y="328">ab</text></g>
<g font-size="12.5" text-anchor="middle" fill="#333"><text x="1063" y="362">264</text><text x="1125" y="393">213</text><text x="1187" y="378">237</text></g>
<g font-size="14" text-anchor="middle"><text x="1063" y="394" fill="#f0f0f0">a</text><text x="1125" y="423" fill="#f0f0f0">b</text><text x="1187" y="407" fill="#f0f0f0">c</text></g>
<g font-size="12" text-anchor="middle"><text x="1063" y="469" fill="#f0f0f0">665</text><text x="1125" y="469" fill="#f0f0f0">481</text><text x="1187" y="469" fill="#f0f0f0">572</text></g>
<text transform="translate(990,400) rotate(-90)" font-size="15" text-anchor="middle" fill="#333">CSA  (μm²)</text>
<g font-size="14" text-anchor="middle" fill="#333"><text x="1063" y="498">Young</text><text x="1125" y="498">Old</text><text x="1186" y="498">Old+PQQ</text></g>

<text x="590" y="545" class="b" font-size="13">E</text>
<text x="705" y="545" font-size="16" font-style="italic" text-anchor="middle" fill="#222">IL-6</text>
<rect x="664.5" y="642.6" width="17" height="41.4" fill="#c8daf0" stroke="#555" stroke-width="1"/>
<rect x="703" y="597.4" width="17" height="86.6" fill="#fdf0c2" stroke="#555" stroke-width="1"/>
<rect x="741.5" y="644.4" width="17" height="39.6" fill="#f47c7e" stroke="#555" stroke-width="1"/>
<path d="M673 635V650.9M670 635h6M670 650.9h6M711.5 582.3V613.2M708.5 582.3h6M708.5 613.2h6M750 641.8V646.3M747 641.8h6M747 646.3h6" stroke="#333" stroke-width="1"/>
<g stroke="#222" stroke-width="1.5"><line x1="654" y1="570" x2="654" y2="684"/><line x1="654" y1="684" x2="771" y2="684"/></g>
<g stroke="#222" stroke-width="1.2">
<line x1="650" y1="571" x2="654" y2="571"/><line x1="650" y1="589.8" x2="654" y2="589.8"/><line x1="650" y1="608.7" x2="654" y2="608.7"/><line x1="650" y1="627.5" x2="654" y2="627.5"/><line x1="650" y1="646.3" x2="654" y2="646.3"/><line x1="650" y1="665.2" x2="654" y2="665.2"/>
<line x1="654" y1="679" x2="654" y2="689"/><line x1="692.7" y1="679" x2="692.7" y2="689"/><line x1="731.3" y1="679" x2="731.3" y2="689"/><line x1="770" y1="679" x2="770" y2="689"/>
</g>
<g font-size="13" text-anchor="end" fill="#333"><text x="648" y="575.5">3.0</text><text x="648" y="594.5">2.5</text><text x="648" y="613">2.0</text><text x="648" y="632">1.5</text><text x="648" y="651">1.0</text><text x="648" y="669.5">0.5</text><text x="648" y="688.5">0.0</text></g>
<g font-size="15" text-anchor="middle" fill="#333"><text x="673" y="632">a</text><text x="711.5" y="576">b</text><text x="750" y="632">a</text></g>
<g font-size="11" text-anchor="middle" fill="#555"><text x="673" y="678">1.1</text><text x="711.5" y="678">2.3</text><text x="750" y="678">1.0</text></g>
<text transform="translate(607,633) rotate(-90)" font-size="13.5" text-anchor="middle" fill="#333">mRNA fold change</text>
<text transform="translate(621,633) rotate(-90)" font-size="13.5" text-anchor="middle" fill="#333">(vs. Young)</text>
<g font-size="13" font-style="italic" text-anchor="end" fill="#333"><text transform="translate(676,698) rotate(-45)">Young</text><text transform="translate(714,698) rotate(-45)">Old</text><text transform="translate(753,698) rotate(-45)">Old+PQQ</text></g>

<text x="805" y="545" class="b" font-size="13">F</text>
<text x="923" y="545" font-size="16" font-style="italic" text-anchor="middle" fill="#222">IL-1β</text>
<rect x="876.5" y="657.2" width="17" height="26.8" fill="#c8daf0" stroke="#555" stroke-width="1"/>
<rect x="917" y="595.8" width="17" height="88.2" fill="#fdf0c2" stroke="#555" stroke-width="1"/>
<rect x="958" y="620.1" width="17" height="63.9" fill="#f47c7e" stroke="#555" stroke-width="1"/>
<path d="M885 654.6V659.7M882 654.6h6M882 659.7h6M925.5 575.4V616.8M922.5 575.4h6M922.5 616.8h6M966.5 600.9V638M963.5 600.9h6M963.5 638h6" stroke="#333" stroke-width="1"/>
<g stroke="#222" stroke-width="1.5"><line x1="864" y1="568" x2="864" y2="684"/><line x1="864" y1="684" x2="988" y2="684"/></g>
<g stroke="#222" stroke-width="1.2">
<line x1="860" y1="569" x2="864" y2="569"/><line x1="860" y1="581.8" x2="864" y2="581.8"/><line x1="860" y1="594.5" x2="864" y2="594.5"/><line x1="860" y1="607.3" x2="864" y2="607.3"/><line x1="860" y1="620.1" x2="864" y2="620.1"/><line x1="860" y1="632.9" x2="864" y2="632.9"/><line x1="860" y1="645.7" x2="864" y2="645.7"/><line x1="860" y1="658.4" x2="864" y2="658.4"/><line x1="860" y1="671.2" x2="864" y2="671.2"/>
<line x1="864" y1="679" x2="864" y2="689"/><line x1="905" y1="679" x2="905" y2="689"/><line x1="946" y1="679" x2="946" y2="689"/><line x1="987" y1="679" x2="987" y2="689"/>
</g>
<g font-size="12.5" text-anchor="end" fill="#333"><text x="859" y="573.5">4.5</text><text x="859" y="586">4.0</text><text x="859" y="599">3.5</text><text x="859" y="611.5">3.0</text><text x="859" y="624.5">2.5</text><text x="859" y="637">2.0</text><text x="859" y="650">1.5</text><text x="859" y="663">1.0</text><text x="859" y="675.5">0.5</text><text x="859" y="688.5">0.0</text></g>
<g font-size="15" text-anchor="middle" fill="#333"><text x="885" y="650">a</text><text x="925.5" y="568">b</text><text x="966.5" y="595">ab</text></g>
<g font-size="11" text-anchor="middle" fill="#555"><text x="885" y="678">1.0</text><text x="925.5" y="678">3.4</text><text x="966.5" y="678">2.5</text></g>
<text transform="translate(818,633) rotate(-90)" font-size="13.5" text-anchor="middle" fill="#333">mRNA fold change</text>
<text transform="translate(832,633) rotate(-90)" font-size="13.5" text-anchor="middle" fill="#333">(vs. Young)</text>
<g font-size="13" font-style="italic" text-anchor="end" fill="#333"><text transform="translate(888,698) rotate(-45)">Young</text><text transform="translate(928,698) rotate(-45)">Old</text><text transform="translate(969,698) rotate(-45)">Old+PQQ</text></g>

<text x="1014" y="545" class="b" font-size="13">G</text>
<text x="1136" y="545" font-size="16" font-style="italic" text-anchor="middle" fill="#222">TNF-α</text>
<rect x="1095" y="633.8" width="17" height="50.2" fill="#c8daf0" stroke="#555" stroke-width="1"/>
<rect x="1133" y="606.5" width="17" height="77.5" fill="#fdf0c2" stroke="#555" stroke-width="1"/>
<rect x="1173" y="632.9" width="17" height="51.1" fill="#f47c7e" stroke="#555" stroke-width="1"/>
<path d="M1103.5 624.7V643M1100.5 624.7h6M1100.5 643h6M1141.5 588.2V625.6M1138.5 588.2h6M1138.5 625.6h6M1181.5 624.7V641.6M1178.5 624.7h6M1178.5 641.6h6" stroke="#333" stroke-width="1"/>
<g stroke="#222" stroke-width="1.5"><line x1="1081" y1="569" x2="1081" y2="684"/><line x1="1081" y1="684" x2="1203" y2="684"/></g>
<g stroke="#222" stroke-width="1.2">
<line x1="1077" y1="570" x2="1081" y2="570"/><line x1="1077" y1="592.8" x2="1081" y2="592.8"/><line x1="1077" y1="615.6" x2="1081" y2="615.6"/><line x1="1077" y1="638.4" x2="1081" y2="638.4"/><line x1="1077" y1="661.2" x2="1081" y2="661.2"/>
<line x1="1081" y1="679" x2="1081" y2="689"/><line x1="1121.3" y1="679" x2="1121.3" y2="689"/><line x1="1161.7" y1="679" x2="1161.7" y2="689"/><line x1="1202" y1="679" x2="1202" y2="689"/>
</g>
<g font-size="13" text-anchor="end" fill="#333"><text x="1075" y="574.5">2.5</text><text x="1075" y="597.5">2.0</text><text x="1075" y="620">1.5</text><text x="1075" y="643">1.0</text><text x="1075" y="666">0.5</text><text x="1075" y="688.5">0.0</text></g>
<g font-size="15" text-anchor="middle" fill="#333"><text x="1103.5" y="621">a</text><text x="1141.5" y="580">b</text><text x="1181.5" y="617">a</text></g>
<g font-size="11" text-anchor="middle" fill="#555"><text x="1103.5" y="678">1.1</text><text x="1141.5" y="678">1.7</text><text x="1181.5" y="678">1.1</text></g>
<text transform="translate(1033,627) rotate(-90)" font-size="13.5" text-anchor="middle" fill="#333">mRNA fold change</text>
<text transform="translate(1049,627) rotate(-90)" font-size="13.5" text-anchor="middle" fill="#333">(vs. Young)</text>
<g font-size="13" font-style="italic" text-anchor="end" fill="#333"><text transform="translate(1106,698) rotate(-45)">Young</text><text transform="translate(1144,698) rotate(-45)">Old</text><text transform="translate(1184,698) rotate(-45)">Old+PQQ</text></g>

<rect x="701" y="737" width="370" height="20" fill="#fff"/>
<text x="706" y="753" class="cj" font-size="17" textLength="361" lengthAdjust="spacingAndGlyphs">PQQ对老年小鼠肌肉功能、肌肉萎缩和炎症的影响</text>
</svg>
</body></html>
